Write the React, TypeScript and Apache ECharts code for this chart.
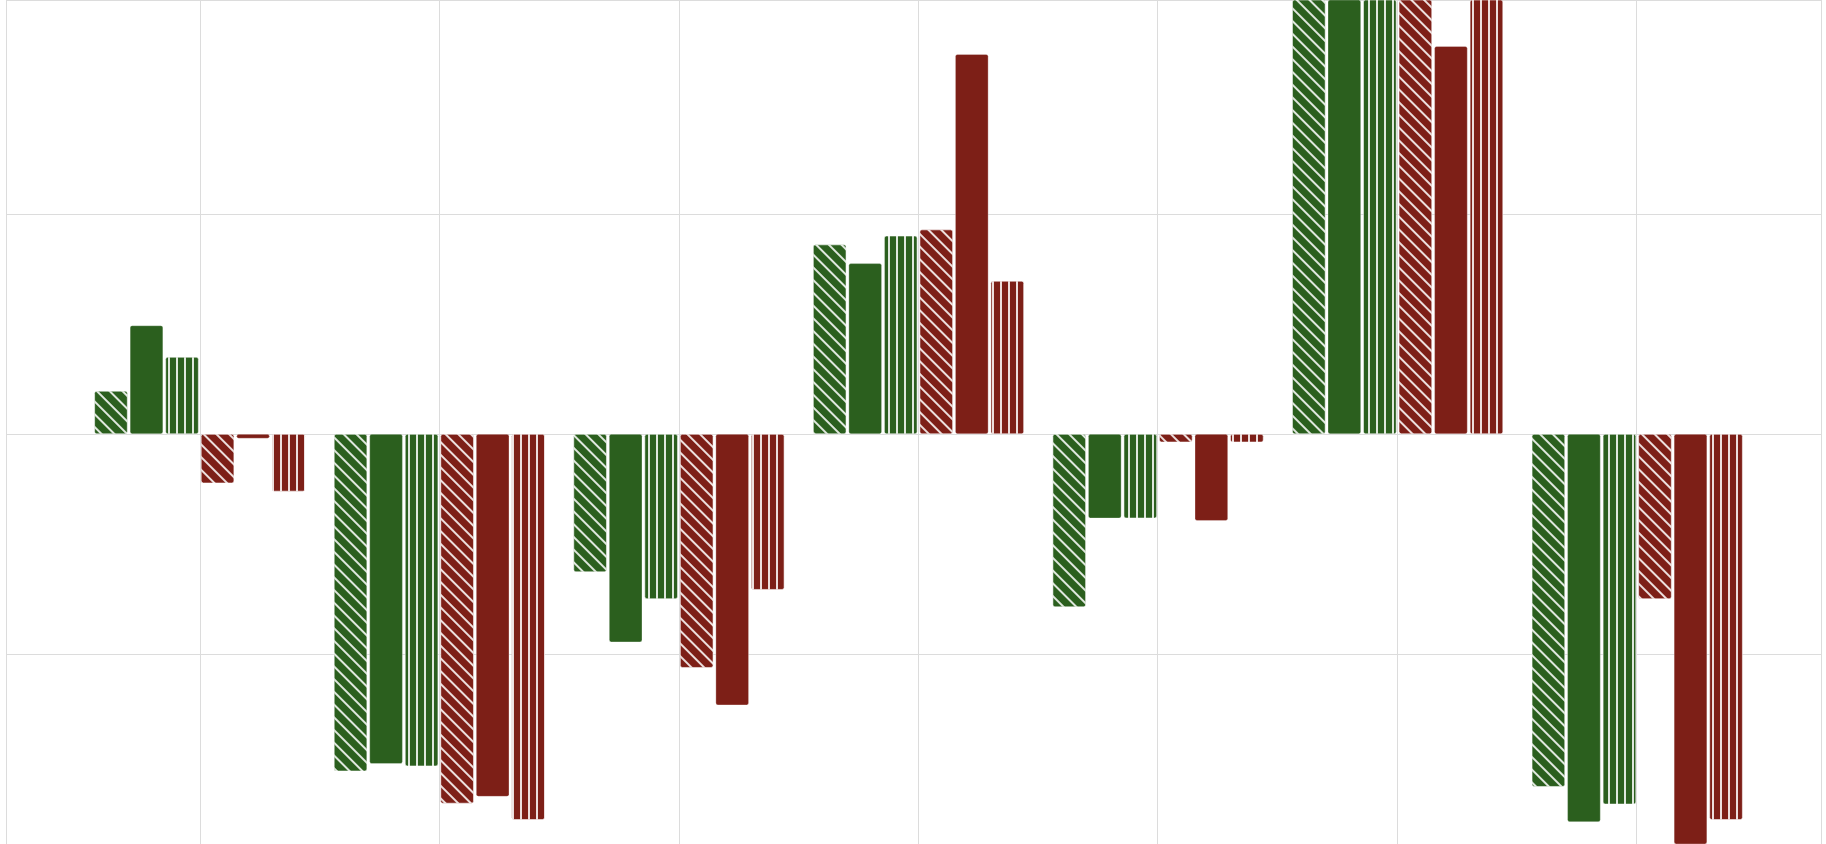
import { useEffect, useRef } from 'react';
import * as echarts from 'echarts';

const categories = ['A', 'B', 'C', 'D', 'E', 'F', 'G'];
const greenDiag = [1.96, -15.3, -6.26, 8.6, -7.85, 22, -16.0];
const greenSolid = [4.93, -14.96, -9.44, 7.75, -3.82, 22, -17.6];
const greenVert = [3.5, -15.07, -7.48, 9.0, -3.82, 22, -16.8];
const redDiag = [-2.23, -16.76, -10.6, 9.28, -0.37, 22, -7.48];
const redSolid = [-0.2, -16.45, -12.3, 17.24, -3.93, 17.6, -20];
const redVert = [-2.6, -17.5, -7.06, 6.95, -0.37, 22, -17.5];

const GREEN = '#2b5f1e';
const RED = '#7d1f17';

const diagDecal = {
  symbol: 'rect',
  color: 'rgba(255,255,255,0.85)',
  dashArrayX: [1, 0],
  dashArrayY: [2, 7],
  rotation: Math.PI / 4,
};
const vertDecal = {
  symbol: 'rect',
  color: 'rgba(255,255,255,0.85)',
  dashArrayX: [2, 6],
  dashArrayY: [1, 0],
  rotation: 0,
};

export default function App() {
  const chartRef = useRef<HTMLDivElement>(null);

  useEffect(() => {
    if (!chartRef.current) return;
    document.body.style.margin = '0';
    const chart = echarts.init(chartRef.current, undefined, { renderer: 'svg' });

    const bar = (data: number[], color: string, decal?: object) => ({
      type: 'bar' as const,
      xAxisIndex: 1,
      yAxisIndex: 1,
      data,
      barGap: '7%',
      barCategoryGap: '12%',
      itemStyle: {
        color,
        borderRadius: 2,
        borderColor: 'rgba(255,255,255,0.6)',
        borderWidth: 0.5,
        ...(decal ? { decal } : {}),
      },
    });

    chart.setOption({
      animation: false,
      grid: [
        { left: 6, right: 5, top: 0, bottom: 0 },
        { left: 80, right: 69, top: 0, bottom: 0 },
      ],
      xAxis: [
        {
          type: 'value',
          gridIndex: 0,
          min: -0.81,
          max: 6.77,
          splitNumber: 8,
          axisLabel: { show: false },
          axisLine: { show: false },
          axisTick: { show: false },
          splitLine: { lineStyle: { color: '#dcdcdc' } },
        },
        {
          type: 'category',
          gridIndex: 1,
          data: categories,
          axisLabel: { show: false },
          axisLine: { show: false },
          axisTick: { show: false },
        },
      ],
      yAxis: [
        {
          type: 'value',
          gridIndex: 0,
          min: -18.6,
          max: 19.7,
          splitNumber: 4,
          axisLabel: { show: false },
          axisLine: { show: false },
          axisTick: { show: false },
          splitLine: { lineStyle: { color: '#dcdcdc' } },
        },
        {
          type: 'value',
          gridIndex: 1,
          min: -18.6,
          max: 19.7,
          axisLabel: { show: false },
          axisLine: { show: false },
          axisTick: { show: false },
          splitLine: { show: false },
        },
      ],
      series: [
        bar(greenDiag, GREEN, diagDecal),
        bar(greenSolid, GREEN),
        bar(greenVert, GREEN, vertDecal),
        bar(redDiag, RED, diagDecal),
        bar(redSolid, RED),
        bar(redVert, RED, vertDecal),
      ],
    });

    const handleResize = () => chart.resize();
    window.addEventListener('resize', handleResize);
    return () => {
      window.removeEventListener('resize', handleResize);
      chart.dispose();
    };
  }, []);

  return <div ref={chartRef} style={{ width: '100vw', height: '100vh' }} />;
}
